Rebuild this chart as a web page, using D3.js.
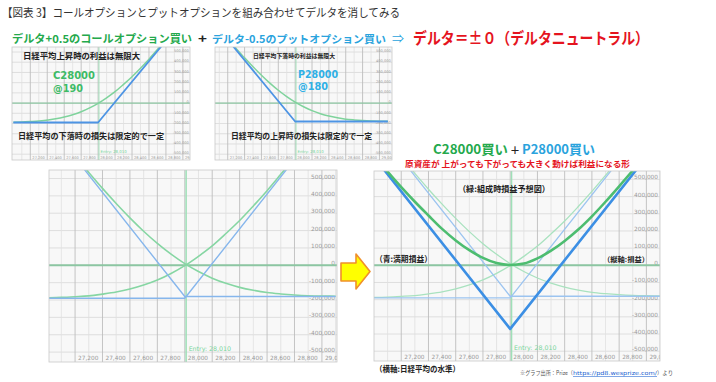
<!DOCTYPE html>
<html><head><meta charset="utf-8">
<script src="https://cdn.jsdelivr.net/npm/d3@7"></script>
<style>body{margin:0;background:#fff}svg{display:block}</style>
</head><body>
<svg id="c" width="716" height="382"></svg>
<script>
// ---------- data ----------
const xGridMajor = [27200, 27400, 27600, 27800, 28000, 28200, 28400, 28600, 28800, 29000];
const xGridMinor = [27100, 27300, 27500, 27700, 27900, 28100, 28300, 28500, 28700, 28900, 29100];
const xTickLabels = ["27,200", "27,400", "27,600", "27,800", "28,000", "28,200", "28,400", "28,600", "28,800", "29,000"];
const yTicks = [500000, 400000, 300000, 200000, 100000, 0, -100000, -200000, -300000, -400000, -500000];
const yTickLabels = ["500,000", "400,000", "300,000", "200,000", "100,000", "0", "-100,000", "-200,000", "-300,000", "-400,000", "-500,000"];
const entryLevel = 28010;
const entryLabel = "Entry: 28,010";

const priceGrid = [27000, 27100, 27200, 27300, 27400, 27500, 27600, 27700, 27800, 27900, 28000,
                   28100, 28200, 28300, 28400, 28500, 28600, 28700, 28800, 28900, 29000, 29100];
// green: profit/loss estimate before expiry (yen)
const callCurve = [-187000, -185000, -181000, -176000, -166000, -154000, -137000, -114000, -85000, -47000, -2000,
                   52000, 112000, 183000, 258000, 342000, 430000, 524000, 619000, 715000, 813000, 912000];
const putCurve = [823000, 725000, 629000, 535000, 443000, 356000, 273000, 196000, 126000, 64000, 10000,
                  -36000, -74000, -104000, -127000, -144000, -157000, -165000, -171000, -175000, -177000, -178000];
const straddleCurve = [640000, 545000, 455000, 370000, 290000, 212000, 145000, 88000, 43000, 13000, 2000,
                       10000, 40000, 85000, 142000, 208000, 285000, 370000, 460000, 552000, 648000, 745000];
// blue: profit/loss at expiry (yen)
const payoffKnots = [27000, 28000, 29100];
const callPayoff = [-190000, -190000, 910000];
const putPayoff = [820000, -180000, -180000];
const straddlePayoff = [630000, -370000, 730000];

const yDomain = [-557000, 549000];

// ---------- drawing ----------
const svg = d3.select('#c');
const JP = "'Noto Sans CJK JP','Noto Sans',sans-serif";
const NUM = "'DejaVu Sans',Verdana,sans-serif";
svg.append('rect').attr('width', 716).attr('height', 382).attr('fill', '#fff');
const defs = svg.append('defs');

function series(xs, ys) { return xs.map((d, i) => [d, ys[i]]); }

let clipN = 0;
function chart(cfg) {
  const x = d3.scaleLinear().domain([cfg.d0, cfg.d0 + 2100]).range([cfg.left, cfg.right]);
  const y = d3.scaleLinear().domain(yDomain).range([cfg.bottom, cfg.top]);
  const id = 'clip' + (clipN++);
  defs.append('clipPath').attr('id', id).append('rect')
    .attr('x', cfg.left).attr('y', cfg.top).attr('width', cfg.right - cfg.left).attr('height', cfg.bottom - cfg.top);
  const g = svg.append('g').attr('clip-path', `url(#${id})`);
  const s = cfg.k; // style scale
  g.append('rect').attr('x', cfg.left).attr('y', cfg.top).attr('width', cfg.right - cfg.left)
    .attr('height', cfg.bottom - cfg.top).attr('fill', '#f8f8f8');
  g.selectAll(null).data(yTicks).join('line')
    .attr('x1', cfg.left).attr('x2', cfg.right).attr('y1', d => y(d)).attr('y2', d => y(d))
    .attr('stroke', '#d8d8d8').attr('stroke-width', 0.8);
  g.selectAll(null).data(xGridMinor).join('line')
    .attr('x1', d => x(d)).attr('x2', d => x(d)).attr('y1', cfg.top).attr('y2', cfg.bottom)
    .attr('stroke', '#e0e0e0').attr('stroke-width', 0.8);
  g.selectAll(null).data(xGridMajor).join('line')
    .attr('x1', d => x(d)).attr('x2', d => x(d)).attr('y1', cfg.top).attr('y2', cfg.bottom)
    .attr('stroke', '#bdbdbd').attr('stroke-width', 0.9);

  // y axis labels (right side, inside)
  const ya = d3.axisLeft(y).tickValues(yTicks).tickSize(0).tickPadding(0)
    .tickFormat((d, i) => yTickLabels[i]);
  const yg = g.append('g').attr('transform', `translate(${cfg.right - 2 * s},0)`).call(ya);
  yg.select('.domain').remove();
  yg.selectAll('text').attr('font-family', NUM).attr('font-size', 5.8 * s).attr('fill', '#9a9a9a')
    .attr('dy', -0.5 * s);
  // x axis labels
  const xa = d3.axisBottom(x).tickValues(xGridMajor).tickSize(0).tickPadding(0)
    .tickFormat((d, i) => xTickLabels[i]);
  const xg = g.append('g').attr('transform', `translate(0,${cfg.bottom - 2 * s})`).call(xa);
  xg.select('.domain').remove();
  xg.selectAll('text').attr('font-family', NUM).attr('font-size', 5.8 * s).attr('fill', '#9a9a9a')
    .attr('text-anchor', 'start').attr('x', 2.5 * s).attr('y', 0).attr('dy', 0);

  // zero line & entry line
  g.append('line').attr('x1', cfg.left).attr('x2', cfg.right).attr('y1', y(0)).attr('y2', y(0))
    .attr('stroke', '#8cc6a2').attr('stroke-width', 2 * s);
  g.append('line').attr('x1', x(entryLevel)).attr('x2', x(entryLevel)).attr('y1', cfg.top).attr('y2', cfg.bottom)
    .attr('stroke', '#9fe0b8').attr('stroke-width', 1.5 * s);
  g.append('text').attr('x', x(entryLevel) + 2.5 * s).attr('y', cfg.bottom - 11.5 * s).text(entryLabel)
    .attr('font-family', NUM).attr('font-size', 6.3 * s).attr('fill', '#78d69c');

  const lineStraight = d3.line().x(d => x(d[0])).y(d => y(d[1]));
  const lineSmooth = d3.line().x(d => x(d[0])).y(d => y(d[1])).curve(d3.curveMonotoneX);
  cfg.lines.forEach(L => {
    const data = L.kind === 'payoff' ? series(payoffKnots, L.ys) : series(priceGrid, L.ys);
    g.append('path').attr('d', (L.kind === 'payoff' ? lineStraight : lineSmooth)(data))
      .attr('fill', 'none').attr('stroke', L.color).attr('stroke-width', L.w)
      .attr('stroke-linejoin', 'round').attr('opacity', L.op || 1);
  });
  svg.append('rect').attr('x', cfg.left).attr('y', cfg.top).attr('width', cfg.right - cfg.left)
    .attr('height', cfg.bottom - cfg.top).attr('fill', 'none').attr('stroke', '#c9c9c9').attr('stroke-width', 0.8);
}

const GREEN = '#86d6a3';
// small panel 1 (call)
chart({left: 12, right: 190, top: 47, bottom: 160, d0: 26984, k: 0.62, lines: [
  {kind: 'curve', ys: callCurve, color: '#7fd39c', w: 1.5},
  {kind: 'payoff', ys: callPayoff, color: '#4d94e4', w: 1.8}
]});
// small panel 2 (put)
chart({left: 215, right: 392, top: 47, bottom: 160, d0: 27049, k: 0.62, lines: [
  {kind: 'curve', ys: putCurve, color: '#7fd39c', w: 1.5},
  {kind: 'payoff', ys: putPayoff, color: '#4d94e4', w: 1.8}
]});
// big left (both legs)
chart({left: 49, right: 337, top: 170, bottom: 362, d0: 27010, k: 1, lines: [
  {kind: 'curve', ys: callCurve, color: GREEN, w: 1.6},
  {kind: 'curve', ys: putCurve, color: GREEN, w: 1.6},
  {kind: 'payoff', ys: callPayoff, color: '#86b6ec', w: 1.4},
  {kind: 'payoff', ys: putPayoff, color: '#86b6ec', w: 1.4}
]});
// big right (combined)
chart({left: 374, right: 660, top: 171, bottom: 361, d0: 27000, k: 1, lines: [
  {kind: 'curve', ys: callCurve, color: '#a9e2bf', w: 1.3},
  {kind: 'curve', ys: putCurve, color: '#a9e2bf', w: 1.3},
  {kind: 'payoff', ys: callPayoff, color: '#9cc4f0', w: 1.3},
  {kind: 'payoff', ys: putPayoff, color: '#9cc4f0', w: 1.3},
  {kind: 'payoff', ys: straddlePayoff, color: '#3c8fe4', w: 2.6},
  {kind: 'curve', ys: straddleCurve, color: '#4dbd70', w: 2.6}
]});

// arrow
svg.append('polygon')
  .attr('points', [[341, 263], [356, 263], [356, 254], [370, 271.5], [356, 289], [356, 281], [341, 281]].map(p => p.join(',')).join(' '))
  .attr('fill', '#ffff00').attr('stroke', '#f0902a').attr('stroke-width', 1.6).attr('stroke-linejoin', 'round');

// ---------- text ----------
function label(x, y, s, o) {
  const t = svg.append('text').attr('x', x).attr('y', y).text(s)
    .attr('font-family', o.family || JP).attr('font-size', o.size).attr('fill', o.fill || '#222')
    .attr('font-weight', o.weight || 'normal');
  if (o.len) t.attr('textLength', o.len).attr('lengthAdjust', 'spacingAndGlyphs');
  if (o.deco) t.attr('text-decoration', o.deco);
  return t;
}
const G = '#24a94c', B = '#2aa3dd', R = '#e5141e';
label(2, 17, '【図表 3】コールオプションとプットオプションを組み合わせてデルタを消してみる', {size: 11.5, fill: '#333', len: 398});
label(12, 42.5, 'デルタ+0.5のコールオプション買い', {size: 10.8, fill: G, weight: 'bold', len: 180});
label(198, 42.5, '+', {size: 12, fill: '#222', weight: 'bold', len: 9});
label(212, 42.5, 'デルタ-0.5のプットオプション買い', {size: 10.6, fill: B, weight: 'bold', len: 174});
label(392, 42.5, '⇒', {size: 11, fill: B, len: 12});
label(413, 44, 'デルタ＝±０（デルタニュートラル）', {size: 16, fill: R, weight: 'bold', len: 236});

label(23, 58.5, '日経平均上昇時の利益は無限大', {size: 8.5, weight: 'bold', len: 117});
label(53, 79, 'C28000', {size: 10.5, fill: '#3dbb66', weight: 'bold', family: NUM, len: 42});
label(53, 91.5, '@190', {size: 10.5, fill: '#3dbb66', weight: 'bold', family: NUM, len: 30});
label(18, 138.5, '日経平均の下落時の損失は限定的で一定', {size: 8.1, weight: 'bold', len: 146});

label(253, 57.5, '日経平均下落時の利益は無限大', {size: 6, weight: 'bold', len: 82});
label(298, 77.5, 'P28000', {size: 10.5, fill: '#2fb0e6', weight: 'bold', family: NUM, len: 40});
label(298, 89.5, '@180', {size: 10.5, fill: '#2fb0e6', weight: 'bold', family: NUM, len: 30});
label(231, 138.5, '日経平均の上昇時の損失は限定的で一定', {size: 7.8, weight: 'bold', len: 141});

label(433, 154, 'C28000買い', {size: 13, fill: G, weight: 'bold', len: 75});
label(510, 154, '＋', {size: 10, fill: '#222', weight: 'bold', len: 10});
label(522, 154, 'P28000買い', {size: 13, fill: B, weight: 'bold', len: 73});
label(405, 167.3, '原資産が 上がっても下がっても大きく動けば利益になる形', {size: 8.5, fill: R, weight: 'bold', len: 225});
label(458, 192, '（緑:組成時損益予想図）', {size: 8.4, weight: 'bold', len: 92});
label(375, 262, '（青:満期損益）', {size: 8.2, weight: 'bold', len: 57});
label(603, 262, '（縦軸:損益）', {size: 7, weight: 'bold', len: 46});
label(375, 372, '（横軸:日経平均の水準）', {size: 8, weight: 'bold', len: 85});
label(520, 375, '※グラフ出所：Prize（', {size: 5.5, fill: '#555', len: 53});
label(573, 375, 'https://pd8.wesprize.com/', {size: 5.5, fill: '#1a5fd0', family: NUM, len: 84, deco: 'underline'});
label(657, 375, '）より', {size: 5.5, fill: '#555', len: 16});
</script>
</body></html>
